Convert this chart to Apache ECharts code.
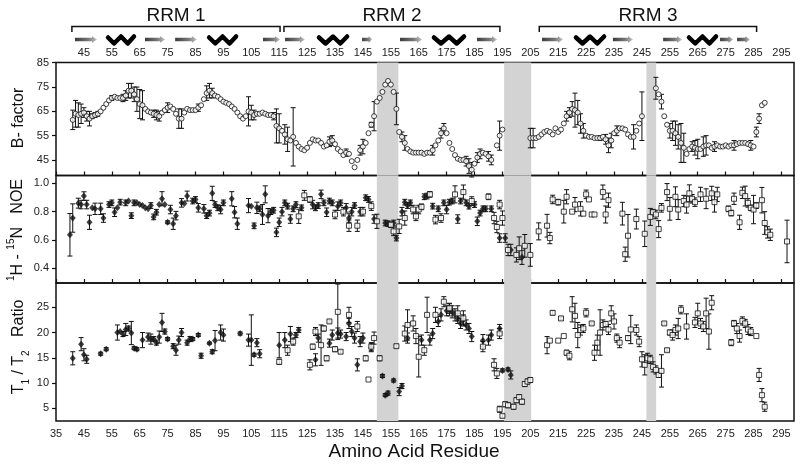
<!DOCTYPE html>
<html><head><meta charset="utf-8">
<script src="https://cdn.jsdelivr.net/npm/echarts@6/dist/echarts.min.js"></script>
<style>html,body{margin:0;padding:0;background:#fff}#c{width:800px;height:466px}</style>
</head><body><div id="c"></div>
<script>
// ---------- DATA ----------
// [residue, value, error(0 = none)]
const bfactor = [[41,61.5,4],[42,64,5.5],[43,63.5,5],[44,64,4],[45,64.5,2],[46,63,2],[47,62,3],[48,63,1],[49,63.5,1],[50,64,1],[51,65,0],[52,66.5,0],[53,68,0],[54,69.5,0],[55,70.5,1],[56,71,0],[57,70.5,0],[58,70.5,0],[59,70.5,1.5],[60,71.5,2],[61,73.5,3],[62,73.5,3],[63,72,3],[64,70,5],[65,68,6],[66,67.5,6],[67,66,0],[68,65,0],[69,64.5,0],[70,64,1.5],[71,63.5,2],[72,63,2],[73,64.5,0],[74,65.5,0],[75,66.5,2],[76,67,0],[77,66,0],[78,64,0],[79,62,4],[80,62,4],[81,64.5,0],[82,66,0],[83,65.5,0],[84,65.5,0],[85,65.5,0],[86,66.5,1.5],[87,67.5,0],[88,70,0],[89,72.5,3],[90,73.5,3],[91,72.5,2],[92,71.5,0],[93,71,0],[94,70,0],[95,69,0],[96,68.5,0],[97,68,0],[98,67,0],[99,66,0],[100,64.5,0],[101,63,0],[102,62,0],[103,63,0],[104,65,6],[105,64.5,3],[106,63.5,2],[107,64,0],[108,64,0],[109,64.5,0],[110,64,0],[111,63.5,0],[112,63.5,0],[113,63,1.5],[114,59,7],[115,58,6],[116,57,0],[117,55.5,4],[118,53.5,5],[119,53,0],[120,54.5,12],[121,52,0],[122,50.5,0],[123,49.5,0],[124,49,0],[125,50,0],[126,52,0],[127,53.5,0],[128,53,0],[129,53,0],[130,52,0],[131,50.5,0],[132,51,0],[133,52.5,2],[134,53,2],[135,51.5,0],[136,49.5,0],[137,48.5,0],[138,47,0],[139,48,1.5],[140,47.5,0],[141,44.5,0],[142,42,0],[143,45,0],[144,49,2],[145,50.5,3],[146,52,0],[147,56,0],[148,59.5,1],[149,63,6],[150,69,0],[151,70.5,0],[152,73,0],[153,76,0],[154,77.5,0],[155,76,0],[156,73,0],[157,66,6.5],[158,56.5,0],[159,54.5,2],[160,52,3],[161,49.5,0],[162,48.5,0],[163,48,0],[164,48,0],[165,48,0],[166,48,0],[167,47.5,0],[168,48,0],[169,48,0],[170,49,2],[171,51,0],[172,53,0],[173,56,2],[174,58,2],[175,56,0],[176,52,0],[177,49.5,0],[178,47,0],[179,45.5,0],[180,45,0],[181,45,0],[182,44.5,2],[183,42.5,3],[184,41,3],[185,43.5,0],[186,46,2],[187,47.5,2],[188,48,0],[189,47.5,0],[190,46.5,2],[191,45,2],[193,51,0],[194,55,6],[195,57.5,0],
[205,54,4],[206,54,4],[207,54,0],[208,54.5,0],[209,55.5,0],[210,56.5,0],[211,57,0],[212,56.5,0],[213,55.5,0],[214,58,0],[215,56.5,0],[216,57.5,0],[217,60,0],[218,63,2],[219,64.5,2],[220,66,3],[221,65.5,7],[222,64.5,5],[223,60,4],[224,57,3],[225,55,0],[226,54.5,0],[227,54.5,0],[228,54,0],[229,54,0],[230,54,1],[231,54.5,0],[232,53.5,2],[233,51,3],[234,53,3],[235,56,0],[236,57,2],[237,58,0],[238,58,0],[239,57.5,0],[240,55.5,0],[241,54.5,0],[242,54.5,5],[243,57,0],[244,60,0],[245,63,10],
[250,74.5,4.5],[251,72,0],[252,69,3],[253,63,0],[254,59.5,0],[255,57,3],[256,57,4],[257,56,5],[258,54.5,5],[259,52,8],[260,50,6],[261,47.5,0],[262,49.5,0],[263,50.5,2],[264,50,3],[265,49.5,4],[266,49.5,0],[267,50.5,4],[268,51,4],[269,51,0],[270,50,0],[271,50.5,2],[272,51,0],[273,50.5,0],[274,50.5,0],[275,51,0],[276,50.5,0],[277,51,0],[278,51,2],[279,51.5,0],[280,52,0],[281,52,0],[282,52,0],[283,51.5,0],[284,51,2],[285,50.5,0],[286,56.5,2],[287,62,2],[288,67.5,0],[289,68.5,0]];

const noeFilled = [[40,0.637,0.15],[41,0.755,0.1],[43,0.86,0.035],[44,0.85,0.03],[45,0.91,0.03],[46,0.85,0.03],[47,0.725,0.05],[48,0.827,0],[49,0.82,0.04],[51,0.82,0.04],[52,0.755,0.03],[54,0.85,0.02],[55,0.862,0.02],[56,0.796,0.03],[57,0.827,0],[58,0.867,0.02],[60,0.862,0.02],[61,0.875,0],[62,0.772,0.02],[63,0.862,0.02],[64,0.862,0],[65,0.85,0],[66,0.843,0],[67,0.827,0],[68,0.82,0],[69,0.843,0.02],[70,0.763,0.02],[71,0.796,0.02],[72,0.85,0],[73,0.891,0.05],[74,0.85,0],[75,0.725,0.01],[76,0.815,0.03],[77,0.715,0.04],[78,0.772,0.03],[80,0.862,0.03],[81,0.857,0],[82,0.91,0.035],[84,0.875,0.02],[85,0.886,0.02],[86,0.827,0.03],[88,0.82,0.03],[89,0.772,0.02],[90,0.79,0.02],[91,0.929,0.05],[92,0.85,0.02],[93,0.827,0.02],[94,0.815,0.03],[95,0.862,0.02],[98,0.891,0.05],[99,0.796,0.04],[100,0.715,0.04],[104,0.843,0.05],[105,0.839,0],[106,0.70,0.02],[107,0.827,0.04],[108,0.82,0.02],[109,0.78,0.07],[110,0.922,0.06],[111,0.772,0.05],[112,0.80,0.02],[113,0.81,0.02],[114,0.654,0.03],[115,0.725,0.03],[116,0.80,0.03],[117,0.862,0.02],[118,0.839,0.02],[119,0.748,0.03],[120,0.82,0.02],[121,0.85,0.02],[123,0.827,0.02],[127,0.85,0.03],[128,0.827,0.02],[129,0.843,0.02],[130,0.922,0.03],[131,0.862,0.02],[132,0.796,0.03],[133,0.875,0.02],[134,0.862,0.02],[136,0.839,0.03],[137,0.862,0.02],[139,0.827,0.03],[140,0.755,0.03],[141,0.80,0.03],[142,0.843,0.02],[144,0.80,0.03],[146,0.898,0.02],[147,0.886,0.02],[149,0.748,0.03],[153,0.72,0.02],[154,0.715,0.02],[156,0.72,0.02],[157,0.614,0.02],[159,0.80,0.03],[160,0.867,0.02],[161,0.843,0.02],[162,0.862,0.02],[167,0.905,0.02],[168,0.91,0.02],[170,0.839,0.02],[172,0.82,0.02],[174,0.862,0.02],[175,0.815,0.03],[176,0.867,0.02],[177,0.875,0.02],[179,0.748,0.03],[180,0.875,0.02],[182,0.862,0.02],[183,0.839,0.02],[185,0.85,0.02],[186,0.732,0.03],[187,0.79,0.02],[188,0.82,0.02],[189,0.82,0.02],[191,0.82,0.02],[194,0.614,0.03],[196,0.614,0.03],[198,0.53,0.04],[202,0.478,0.05]];

const noeOpen = [[122,0.767,0.05],[124,0.915,0.035],[126,0.886,0.02],[135,0.78,0.03],[138,0.80,0.03],[140,0.701,0.04],[143,0.701,0.04],[145,0.80,0.03],[148,0.839,0.03],[150,0.732,0.05],[155,0.708,0.02],[156,0.661,0.03],[158,0.696,0.05],[160,0.755,0.05],[163,0.815,0.03],[164,0.767,0.03],[165,0.815,0.03],[166,0.834,0.02],[169,0.922,0.02],[171,0.744,0.03],[173,0.755,0.03],[178,0.922,0.06],[181,0.938,0.05],[184,0.875,0.03],[190,0.905,0.02],[192,0.755,0.04],[193,0.692,0.04],[194,0.85,0.03],[195,0.755,0.05],[197,0.53,0.04],[200,0.495,0.05],[201,0.542,0.08],[203,0.559,0.08],[205,0.495,0.08],[208,0.661,0.06],[211,0.701,0.08],[212,0.614,0.04],[213,0.886,0.03],[215,0.867,0.02],[217,0.80,0.08],[218,0.905,0.05],[220,0.80,0],[221,0.85,0.05],[223,0.82,0.05],[224,0.786,0],[225,0.922,0.03],[226,0.886,0],[227,0.78,0],[228,0.78,0],[231,0.938,0.05],[232,0.78,0.06],[233,0.881,0.05],[238,0.786,0.08],[239,0.50,0.05],[240,0.63,0.15],[243,0.748,0.07],[246,0.644,0.09],[248,0.763,0.06],[249,0.796,0.02],[250,0.78,0.03],[251,0.677,0.06],[252,0.827,0.03],[254,0.938,0.06],[255,0.82,0.08],[257,0.905,0.07],[258,0.815,0.07],[260,0.875,0.04],[261,0.85,0.06],[262,0.929,0.06],[263,0.891,0.03],[264,0.867,0.03],[266,0.922,0.05],[268,0.891,0.07],[270,0.929,0.05],[271,0.867,0.07],[272,0.922,0.05],[276,0.82,0.02],[277,0.79,0.02],[278,0.891,0.04],[280,0.725,0.05],[281,0.933,0.04],[282,0.91,0.07],[283,0.862,0.03],[284,0.827,0.02],[285,0.815,0.1],[286,0.843,0.02],[288,0.881,0.09],[289,0.72,0.08],[290,0.654,0.04],[291,0.637,0.04],[297,0.59,0.15]];

const ratioFilled = [[41,14.9,1.3],[44,17.7,1.3],[45,15.6,1.2],[46,14.7,0.8],[51,15.8,0.3],[53,16.7,0.3],[57,20,1.5],[58,20.2,0],[59,19.7,0.5],[60,20.6,1.2],[61,20.8,0.5],[62,19.9,2.3],[63,16.9,0.3],[64,16.7,0.3],[66,18.5,1.5],[68,19.1,0.8],[69,18.7,1],[70,18.7,0.5],[71,18,0.5],[72,19.1,1.2],[73,22,1.8],[74,20.2,0.5],[75,18.7,0.3],[77,17.3,0.5],[78,16.5,1],[79,18.5,0.8],[80,20,0.8],[82,18,0.5],[83,18.7,0.5],[84,18.7,0.3],[86,19.5,0.3],[87,15.4,0.5],[90,17.9,0.2],[91,16.2,0.4],[92,18.4,2],[94,20,1.5],[95,19.5,1.2],[101,19.8,0.3],[104,18.5,1.2],[105,18.5,5],[106,15.6,0.3],[107,18,0.8],[108,15.8,0.8],[115,17.5,2.5],[117,18.5,1.5],[119,19.7,1.5],[121,19.5,0.5],[122,20.5,0.5],[128,14.6,1.2],[129,18.9,0.8],[133,17.9,0.8],[134,19.5,1],[136,19.9,1],[137,19.7,0.8],[139,19.2,0.8],[140,21.8,1],[141,20.2,1],[142,18.9,1],[143,13.6,1.2],[144,18.2,1],[145,18.9,1],[148,17,0.8],[152,11.4,0.3],[153,7.6,0.3],[154,8,0.4],[156,10.5,0.3],[158,8.3,0.8],[159,9.4,0.5],[161,18.9,1],[166,18.5,1],[169,18.5,1],[170,19.8,1],[172,22.2,1],[173,23.5,1.2],[175,24.3,1],[176,24.5,1.2],[177,24.1,1.2],[178,23.5,1.2],[179,22.8,1],[180,21.8,1],[181,22.5,1],[182,21.5,1],[183,20.8,1],[184,19.2,1],[188,18.4,1.2],[190,18.5,1],[191,19.5,1],[194,20.8,0.8],[195,12.5,0.3],[197,12.7,0.3],[198,11.6,0.8]];

const ratioOpen = [[115,14.2,0.5],[118,16.5,1],[120,18.2,0.7],[126,13.6,1],[127,17.2,0.5],[128,20.2,0.8],[130,17.5,4],[131,20.8,0.5],[132,14.9,0.5],[133,22.2,0.3],[135,16.7,0.5],[136,24.1,5.5],[137,16.2,0.3],[140,23.5,1.5],[143,21.2,1],[146,14.9,0.5],[147,10.7,0],[148,17.2,0.8],[149,18.9,1.2],[151,14.9,0.5],[157,17.3,0.3],[160,19.8,1.5],[161,21.5,3],[163,21.8,1.5],[164,19.3,1.5],[165,15.2,4],[167,16.5,1],[168,23.5,3.5],[171,23.5,1.5],[174,26.1,1],[176,24.8,1],[179,23.8,1.5],[181,22.8,1.5],[188,17.2,1],[192,13.6,1.2],[193,11.9,1],[194,19.8,1],[194,4.8,0.6],[195,3.5,0.3],[196,5.8,0.5],[197,5.6,0.5],[199,5.3,0.5],[200,6.6,0.5],[201,7.2,0.5],[202,6.3,0.5],[203,9.8,0.5],[204,10.3,0.5],[205,10.6,0.5],[211,17.5,1.7],[212,18.4,0],[213,23.9,0.4],[215,18.4,0],[216,22.8,0.3],[217,19.3,0],[218,16,0.5],[219,15.4,0.8],[220,24.6,2.5],[221,23.3,2.5],[222,19.5,2.5],[223,20.5,1],[224,20.8,0.8],[225,23.9,0.8],[227,21.8,0.3],[228,16,1.5],[229,18,1.5],[230,20,4.5],[231,21.5,1],[232,21.7,0.5],[233,20.6,1],[234,23.8,1.5],[235,22.2,1.5],[236,18.9,0.8],[237,18,1],[240,18.9,0.5],[241,20.6,2.8],[243,20.5,1],[244,18.2,1],[245,14.7,1.5],[246,13.6,2],[247,14.9,1],[248,14.7,0.8],[249,13.2,1],[250,12.6,0.8],[251,11.6,0.5],[252,12.4,3.2],[253,21.8,0.3],[254,16.5,0.3],[255,20,0.5],[256,19.5,1],[257,20.5,1],[258,20.8,2],[259,24.5,0.8],[261,21.2,2.5],[264,22,1],[265,23.8,2],[266,21.8,1],[267,21.2,1],[268,23.8,3],[269,20.2,3.5],[270,25.9,1.4],[277,18,0.6],[278,21.8,0.6],[279,20.8,1],[280,19.3,1.2],[281,22.3,0.8],[282,21.8,0.8],[283,20.6,1],[284,20.2,0.8],[286,19.3,0],[287,11.6,1.3],[288,7.6,1.3],[289,5.3,0.9]];

// shaded residue ranges
const bands = [[150,157.7],[195.6,205.3],[246.6,250.1]];
// secondary structure (residue ranges)
const strands = [[41.8,49.7],[66.9,74.1],[77.7,85.5],[109.2,115.3],[117.1,124.2],[144.7,148.3],[158.3,166.2],[185.9,193.1],[209.2,216.7],[234.6,241.8],[252.6,259.4],[273,277.7],[279.1,283.7]];
const helices = [[53.3,63.3],[89.5,99.9],[128.9,139.7],[170.1,181.6],[221,231.8],[261.5,271.9]];
const domains = [[40.7,115.3],[116.7,194.1],[208.2,286.1]];
const domainNames = ['RRM 1','RRM 2','RRM 3'];
// tick labels
const xTopTicks = [45,55,65,75,85,95,105,115,125,135,145,155,165,175,185,195,205,215,225,235,245,255,265,275,285,295];
const xBottomTicks = [35,45,55,65,75,85,95,105,115,125,135,145,155,165,175,185,195,205,215,225,235,245,255,265,275,285,295];
const bTicks = [45,55,65,75,85];
const noeTicks = [0.4,0.6,0.8,1.0];
const ratioTicks = [5,10,15,20,25];

// ---------- CHART ----------
const FONT = "'Liberation Sans', Arial, Helvetica, sans-serif";
const NARROW = "'Liberation Sans Narrow', 'Liberation Sans', Arial, sans-serif";
const INK = '#111';
const X_MIN = 35, X_MAX = 299.5;
const chart = echarts.init(document.getElementById('c'));

const grids = [
  {left:56, right:6, top:62.5, height:113, show:true, borderColor:INK, borderWidth:1.5, backgroundColor:'transparent'},
  {left:56, right:6, top:175.5, height:107.5, show:true, borderColor:INK, borderWidth:1.5, backgroundColor:'transparent'},
  {left:56, right:6, top:283, height:138, show:true, borderColor:INK, borderWidth:1.5, backgroundColor:'transparent'},
  {left:56, right:6, top:0, height:62}
];

function xAx(grid, pos, opts) {
  return Object.assign({type:'value', gridIndex:grid, position:pos, min:X_MIN, max:X_MAX,
    axisLine:{show:false, onZero:false}, splitLine:{show:false},
    axisTick:{show:false}, axisLabel:{show:false}}, opts || {});
}
const tickUp = {show:true, inside:false, length:4, customValues:xBottomTicks, lineStyle:{color:INK, width:1.2}};
const xAxes = [
  xAx(0,'top',{axisLabel:{show:true, customValues:xTopTicks, margin:4, fontSize:11, color:'#222', fontFamily:NARROW}}),
  xAx(1,'top',{axisTick:tickUp}),
  xAx(2,'top',{axisTick:tickUp}),
  xAx(2,'bottom',{axisLabel:{show:true, customValues:xBottomTicks, margin:7, fontSize:11, color:'#222', fontFamily:NARROW}}),
  xAx(3,'bottom',{show:false})
];
function yAx(grid, min, max, ticks, fmt) {
  return {type:'value', gridIndex:grid, min, max, splitLine:{show:false},
    axisLine:{show:false, onZero:false},
    axisTick:{show:true, inside:false, length:4, customValues:ticks, lineStyle:{color:INK, width:1.2}},
    axisLabel:{show:true, customValues:ticks, margin:7, fontSize:11, color:'#222', fontFamily:FONT, formatter:fmt}};
}
const yAxes = [
  yAx(0, 38.6, 85.1, bTicks, v => String(v)),
  yAx(1, 0.297, 1.055, noeTicks, v => v.toFixed(1)),
  yAx(2, 2.48, 29.81, ratioTicks, v => String(v)),
  {type:'value', gridIndex:3, min:0, max:62, inverse:true, show:false}
];

function bandSeries(xi, yi) {
  return {type:'custom', xAxisIndex:xi, yAxisIndex:yi, data:bands, z:1, silent:true,
    renderItem(params, api) {
      const cs = params.coordSys;
      const a = api.coord([api.value(0), api.value(0)])[0];
      const b = api.coord([api.value(1), api.value(0)])[0];
      return {type:'rect', shape:{x:a, y:cs.y, width:b-a, height:cs.height}, style:{fill:'#d3d3d3'}};
    }};
}
function errSeries(data, xi, yi) {
  return {type:'custom', xAxisIndex:xi, yAxisIndex:yi, data, z:3, silent:true, encode:{x:0, y:1},
    renderItem(params, api) {
      const e = api.value(2);
      if (!e) return null;
      const x = api.value(0), v = api.value(1);
      const p1 = api.coord([x, v + e]), p2 = api.coord([x, v - e]);
      const w = 2.5, st = {stroke:INK, lineWidth:1};
      return {type:'group', children:[
        {type:'line', shape:{x1:p1[0], y1:p1[1], x2:p2[0], y2:p2[1]}, style:st},
        {type:'line', shape:{x1:p1[0]-w, y1:p1[1], x2:p1[0]+w, y2:p1[1]}, style:st},
        {type:'line', shape:{x1:p2[0]-w, y1:p2[1], x2:p2[0]+w, y2:p2[1]}, style:st}
      ]};
    }};
}
function scat(data, xi, yi, kind) {
  const s = {type:'scatter', xAxisIndex:xi, yAxisIndex:yi, data:data.map(d => [d[0], d[1]]), z:4, silent:true};
  if (kind === 'circle') { s.symbol='circle'; s.symbolSize=5; s.itemStyle={color:'#fff', borderColor:INK, borderWidth:1}; }
  if (kind === 'square') { s.symbol='rect'; s.symbolSize=5; s.itemStyle={color:'#fff', borderColor:INK, borderWidth:1}; }
  if (kind === 'diamond') { s.symbol='diamond'; s.symbolSize=[6,7]; s.itemStyle={color:INK}; }
  return s;
}

const strandSeries = {type:'custom', xAxisIndex:4, yAxisIndex:3, data:strands, silent:true, z:5,
  renderItem(params, api) {
    const x0 = api.coord([api.value(0), 0])[0], x1 = api.coord([api.value(1), 0])[0];
    const y = api.coord([0, 39.5])[1];
    const h = 1.8, hh = 3.2, head = Math.min(5, (x1 - x0) * 0.35);
    return {type:'polygon', shape:{points:[[x0,y-h],[x1-head,y-h],[x1-head,y-hh],[x1,y],[x1-head,y+hh],[x1-head,y+h],[x0,y+h]]},
      style:{fill:{type:'linear', x:0, y:0, x2:1, y2:0, colorStops:[{offset:0,color:'#3c3c3c'},{offset:0.6,color:'#777'},{offset:1,color:'#c4c4c4'}]}}};
  }};
const helixSeries = {type:'custom', xAxisIndex:4, yAxisIndex:3, data:helices, silent:true, z:5,
  renderItem(params, api) {
    const x0 = api.coord([api.value(0), 0])[0], x1 = api.coord([api.value(1), 0])[0];
    const t = api.coord([0, 36.5])[1], b = api.coord([0, 43.5])[1];
    const w = x1 - x0;
    return {type:'polyline', shape:{points:[[x0+1,t+1],[x0+w*0.25,b],[x0+w*0.5,t],[x0+w*0.74,b],[x1-1,t]]},
      style:{stroke:'#000', lineWidth:4.5, fill:null, lineJoin:'round', lineCap:'round'}};
  }};
const domainSeries = {type:'custom', xAxisIndex:4, yAxisIndex:3, data:domains, silent:true, z:5,
  renderItem(params, api) {
    const x0 = api.coord([api.value(0), 0])[0], x1 = api.coord([api.value(1), 0])[0];
    const yl = api.coord([0, 26.5])[1], ye = api.coord([0, 32])[1], yt = api.coord([0, 16])[1];
    return {type:'group', children:[
      {type:'polyline', shape:{points:[[x0,ye],[x0,yl],[x1,yl],[x1,ye]]}, style:{stroke:INK, lineWidth:1.5, fill:null}},
      {type:'text', x:(x0+x1)/2, y:yt, style:{text:domainNames[params.dataIndex], fontSize:19, fontFamily:FONT, fill:'#111', align:'center', verticalAlign:'middle'}}
    ]};
  }};

const option = {
  animation:false,
  backgroundColor:'#fff',
  grid:grids, xAxis:xAxes, yAxis:yAxes,
  series:[
    bandSeries(0,0), bandSeries(1,1), bandSeries(2,2),
    errSeries(bfactor,0,0), scat(bfactor,0,0,'circle'),
    errSeries(noeFilled,1,1), scat(noeFilled,1,1,'diamond'),
    errSeries(noeOpen,1,1), scat(noeOpen,1,1,'square'),
    errSeries(ratioFilled,2,2), scat(ratioFilled,2,2,'diamond'),
    errSeries(ratioOpen,2,2), scat(ratioOpen,2,2,'square'),
    strandSeries, helixSeries, domainSeries
  ],
  graphic:[
    {type:'text', x:19, y:118, rotation:Math.PI/2, style:{text:'B- factor', fontSize:16, fontFamily:FONT, fill:'#111', align:'center', verticalAlign:'middle'}},
    {type:'text', x:18, y:230, rotation:Math.PI/2, style:{text:'{s|1}{n|H - }{s|15}{n|N   NOE}', align:'center', verticalAlign:'middle',
      rich:{n:{fontSize:16, fontFamily:FONT, fill:'#111', lineHeight:24, verticalAlign:'middle'}, s:{fontSize:10, fontFamily:FONT, fill:'#111', lineHeight:10, verticalAlign:'top'}}}},
    {type:'text', x:19, y:347, rotation:Math.PI/2, style:{text:'{n|T}{s|1}{n| / T}{s|2}{n|   Ratio}', align:'center', verticalAlign:'middle',
      rich:{n:{fontSize:16, fontFamily:FONT, fill:'#111', lineHeight:24, verticalAlign:'middle'}, s:{fontSize:10, fontFamily:FONT, fill:'#111', lineHeight:10, verticalAlign:'bottom'}}}},
    {type:'text', x:414, y:452, style:{text:'Amino Acid Residue', fontSize:19, fontFamily:FONT, fill:'#111', align:'center', verticalAlign:'middle'}}
  ]
};
chart.setOption(option);
</script>
</body></html>
